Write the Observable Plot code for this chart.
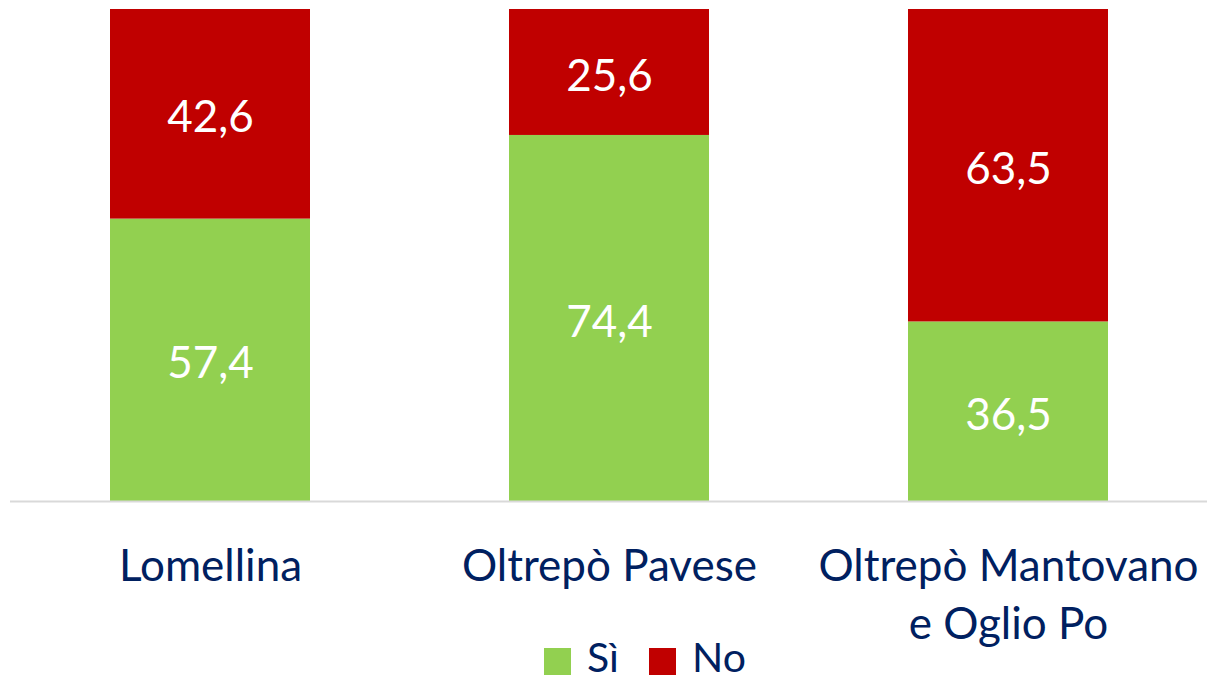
<!DOCTYPE html>
<html>
<head>
<meta charset="utf-8">
<script src="https://cdn.jsdelivr.net/npm/d3@7"></script>
<script src="https://cdn.jsdelivr.net/npm/@observablehq/plot@0.6"></script>
<style>
  html, body { margin: 0; padding: 0; background: #fff; }
  body { width: 1207px; height: 681px; overflow: hidden; font-family: Lato, sans-serif; }
  #chart svg { overflow: visible; display: block; }
  #legend { position: relative; height: 41px; font-size: 41px; color: #002060; }
  #legend .item { position: absolute; top: -8px; display: flex; align-items: flex-start; height: 49px; }
  #legend .sw { display: inline-block; width: 27px; height: 27px; margin-top: 16px; margin-right: 16px; }
  #legend .lb { display: inline-block; height: 49px; line-height: 49px; }
</style>
</head>
<body>
<div id="chart"></div>
<div id="legend"></div>
<script>
const regions = ["Lomellina", "Oltrepò Pavese", "Oltrepò Mantovano e Oglio Po"];
const regionLabels = ["Lomellina", "Oltrepò Pavese", "Oltrepò Mantovano\ne Oglio Po"];
const series = ["Sì", "No"];
const siValues = [57.4, 74.4, 36.5];
const noValues = [42.6, 25.6, 63.5];
const colors = ["#92D050", "#C00000"];

const data = [];
regions.forEach((r, i) => {
  data.push({region: r, group: "Sì", value: siValues[i]});
  data.push({region: r, group: "No", value: noValues[i]});
});
const labelOf = new Map(regions.map((r, i) => [r, regionLabels[i]]));
const fmt = v => v.toFixed(1).replace(".", ",");

const plot = Plot.plot({
  width: 1207,
  height: 640,
  marginTop: 9,
  marginBottom: 139,
  marginLeft: 10,
  marginRight: 0,
  style: {fontFamily: "Lato, sans-serif", background: "#fff", overflow: "visible"},
  x: {domain: regions, paddingInner: 0.5, paddingOuter: 0.25, label: null},
  y: {domain: [0, 100], axis: null},
  color: {domain: series, range: colors},
  marks: [
    Plot.barY(data, {x: "region", y: "value", z: "group", fill: "group"}),
    Plot.ruleY([0], {stroke: "#D9D9D9", strokeWidth: 2}),
    Plot.text(data, Plot.stackY({x: "region", y: "value", z: "group", text: d => fmt(d.value), fill: "white", fontSize: 44, dy: 4})),
    Plot.axisX({tickSize: 0, tickPadding: 38, fontSize: 44, lineHeight: 1.32, fill: "#002060", tickFormat: d => labelOf.get(d), textAnchor: "middle", lineAnchor: "top"})
  ]
});
document.getElementById("chart").appendChild(plot);

const legend = document.getElementById("legend");
const lefts = [544, 649];
series.forEach((s, i) => {
  const item = document.createElement("div");
  item.className = "item";
  item.style.left = lefts[i] + "px";
  item.innerHTML = `<span class="sw" style="background:${colors[i]}"></span><span class="lb">${s}</span>`;
  legend.appendChild(item);
});
</script>
</body>
</html>
